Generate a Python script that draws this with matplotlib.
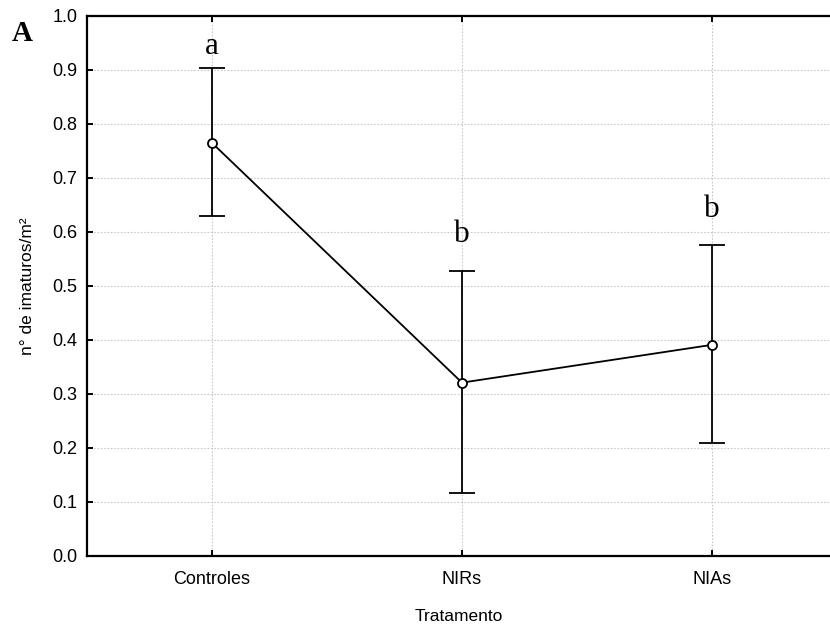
import matplotlib
import numpy as np

matplotlib.use('Agg')

import matplotlib.pyplot as plt

# treatment groups and their means with interval limits
tratamentos = ['Controles', 'NIRs', 'NIAs']
medias = [0.765, 0.321, 0.391]
limite_sup = [0.903, 0.528, 0.576]
limite_inf = [0.630, 0.117, 0.209]
letras = ['a', 'b', 'b']
y_letras = [0.93, 0.581, 0.628]
yticks = [0.0, 0.1, 0.2, 0.3, 0.4, 0.5, 0.6, 0.7, 0.8, 0.9, 1.0]

plt.rcParams['font.family'] = ['Liberation Sans', 'DejaVu Sans']

fig = plt.figure(figsize=(8.30, 6.29), dpi=100)
ax = fig.add_axes([0.1048, 0.1161, 0.8952, 0.8585])

x = np.arange(len(tratamentos))
medias = np.array(medias)
err = [medias - np.array(limite_inf), np.array(limite_sup) - medias]

ax.errorbar(x, medias, yerr=err, color='black', lw=1.3, elinewidth=1.3,
            capsize=9.5, capthick=1.3, marker='o', markersize=6.5,
            markerfacecolor='white', markeredgecolor='black',
            markeredgewidth=1.3, zorder=3)

for xi, letra, yl in zip(x, letras, y_letras):
    ax.text(xi, yl, letra, ha='center', va='baseline', fontsize=22.5,
            family='Liberation Serif')

fig.text(0.014, 0.935, 'A', fontsize=21, fontweight='bold',
         family='Liberation Serif', ha='left', va='baseline')

ax.set_xlim(-0.5, 2.472)
ax.set_ylim(0, 1.0)
ax.set_xticks(x)
ax.set_xticklabels(tratamentos)
ax.set_yticks(yticks)
ax.set_yticklabels(['%.1f' % t for t in yticks])

ax.grid(True, color='#c8c8c8', linestyle=(0, (1.5, 1.5)), linewidth=0.8)
ax.set_axisbelow(True)

ax.spines['right'].set_visible(False)
for s in ['left', 'top', 'bottom']:
    ax.spines[s].set_linewidth(1.6)

ax.tick_params(axis='both', direction='in', length=4, width=1.4,
               labelsize=13, top=True, right=False)
ax.tick_params(axis='x', pad=11)
ax.tick_params(axis='y', pad=7)

ax.set_xlabel('Tratamento', fontsize=12.5, labelpad=15)
ax.set_ylabel('n° de imaturos/m²', fontsize=12.5, labelpad=12)

plt.savefig('out.png', dpi=100)
plt.close(fig)
